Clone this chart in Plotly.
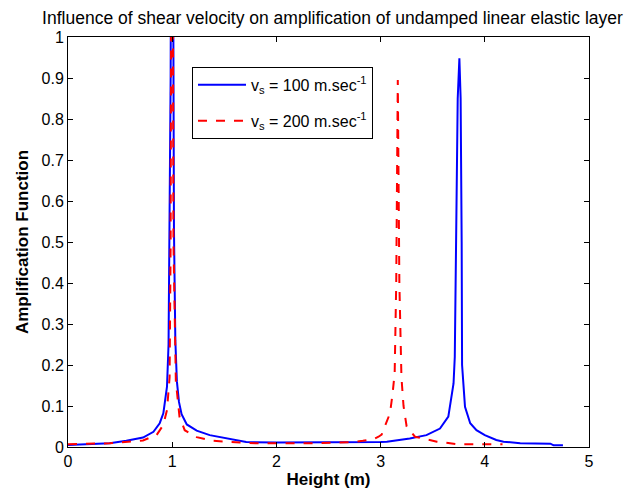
import plotly.graph_objects as go

# values
height_100 = [0.00, 0.20, 0.40, 0.56, 0.72, 0.82, 0.88, 0.915, 0.95, 0.965, 0.976, 0.985,
              0.992, 0.997, 1.003, 1.010, 1.017, 1.030, 1.045, 1.065, 1.09, 1.14, 1.235,
              1.36, 1.52, 1.65, 1.71, 2.0, 2.5, 3.0, 3.06, 3.19, 3.28, 3.44, 3.57, 3.65,
              3.70, 3.712, 3.728, 3.74, 3.756, 3.768, 3.778, 3.782, 3.81, 3.86, 3.92,
              4.0, 4.11, 4.18, 4.34, 4.63, 4.66, 4.75]
amp_100 = [0.005, 0.007, 0.009, 0.015, 0.023, 0.037, 0.058, 0.082, 0.147, 0.25, 0.53, 0.9,
           1.6, 3.0, 2.0, 1.1, 0.53, 0.26, 0.16, 0.11, 0.08, 0.055, 0.04,
           0.029, 0.021, 0.016, 0.012, 0.011, 0.011, 0.012, 0.013, 0.017, 0.021, 0.029, 0.045, 0.074,
           0.155, 0.22, 0.55, 0.85, 0.948, 0.85, 0.5, 0.2, 0.098, 0.058, 0.041,
           0.029, 0.017, 0.013, 0.009, 0.008, 0.004, 0.004]

height_200 = [0.00, 0.40, 0.72, 0.85, 0.915, 0.95, 0.975, 0.985, 0.992, 0.998, 1.005,
              1.012, 1.035, 1.07, 1.12, 1.235, 1.395, 1.65, 1.8, 2.3, 2.51, 2.64, 2.74,
              2.83, 2.93, 2.98, 3.01, 3.04, 3.09, 3.115, 3.135, 3.15, 3.165, 3.18, 3.20,
              3.22, 3.25, 3.33, 3.54, 3.70, 3.73, 4.17]
amp_200 = [0.007, 0.009, 0.016, 0.029, 0.054, 0.09, 0.17, 0.5, 1.3, 3.0, 1.3,
           0.5, 0.16, 0.074, 0.041, 0.024, 0.015, 0.011, 0.009, 0.009, 0.0105, 0.011, 0.012,
           0.015, 0.019, 0.025, 0.03, 0.05, 0.082, 0.13, 0.18, 0.4, 0.895, 0.4, 0.17,
           0.1, 0.05, 0.025, 0.013, 0.008, 0.007, 0.007]

font = 'Liberation Sans, Arial, sans-serif'

fig = go.Figure()
fig.add_trace(go.Scatter(x=height_100, y=amp_100, mode='lines',
                         name='v<sub>s</sub> = 100 m.sec<sup>-1</sup>', legendgroup='a',
                         line=dict(color='rgb(0,0,255)', width=2)))
fig.add_trace(go.Scatter(x=height_200, y=amp_200, mode='lines',
                         name='v<sub>s</sub> = 200 m.sec<sup>-1</sup>', legendgroup='b',
                         line=dict(color='rgb(255,0,0)', width=2, dash='dash')))

axis_style = dict(showline=True, linecolor='black', linewidth=1, mirror='ticks',
                  ticks='inside', ticklen=5, tickcolor='black', showgrid=False,
                  zeroline=False, automargin=False,
                  tickfont=dict(size=16, color='black'))

fig.update_xaxes(range=[0, 5], dtick=1,
                 title=dict(text='<b>Height (m)</b>', font=dict(size=17), standoff=3),
                 **axis_style)
fig.update_yaxes(range=[0, 1], dtick=0.1,
                 title=dict(text='<b>Amplification Function</b>', font=dict(size=17), standoff=8),
                 **axis_style)

# page body adds 8px, so the figure is 8px smaller than the window
fig.update_layout(
    width=624, height=485,
    margin=dict(l=60, r=43, t=29, b=46),
    paper_bgcolor='white', plot_bgcolor='white',
    font=dict(family=font, size=16, color='black'),
    title=dict(text='Influence of shear velocity on amplification of undamped linear elastic layer',
               x=0.52, xanchor='center', y=0.979, yanchor='middle',
               font=dict(size=17.5)),
    legend=dict(x=0.238, y=0.927, xanchor='left', yanchor='top',
                bordercolor='black', borderwidth=1, bgcolor='white',
                traceorder='grouped', tracegroupgap=12, itemwidth=48,
                font=dict(size=16)),
)

fig.write_html('out.html')
